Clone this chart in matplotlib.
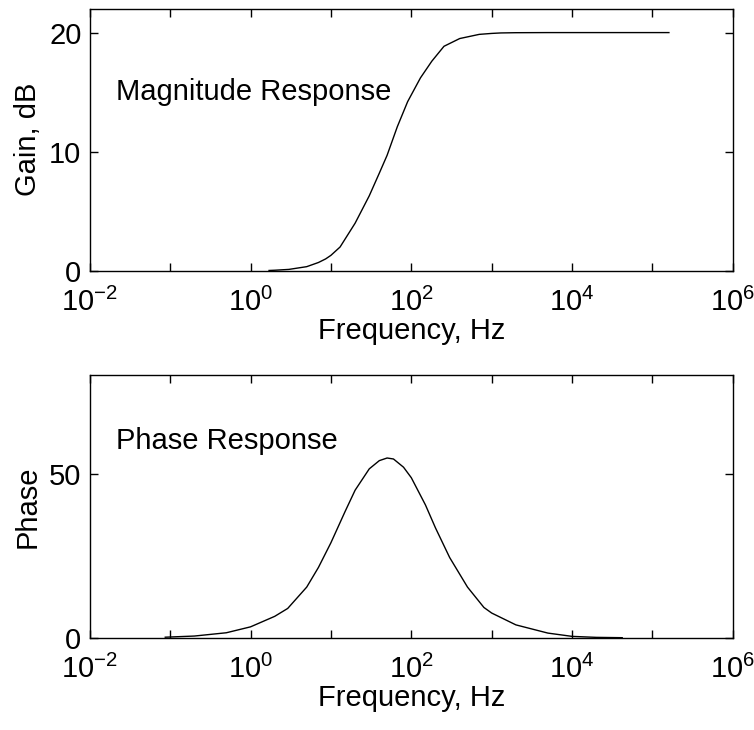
import numpy as np
import matplotlib
matplotlib.use("Agg")
import matplotlib.pyplot as plt
from matplotlib.ticker import NullFormatter

# magnitude response
mag_freq = [1.7, 2, 3, 5, 7, 8.6, 10, 13, 20, 30, 40, 50, 67, 90, 130, 180, 255, 400, 700, 1000, 1300, 2000, 5000, 1e4, 5e4, 1.6e5]
mag_gain = [0.03, 0.05, 0.12, 0.35, 0.7, 1.0, 1.3, 2.0, 4.0, 6.3, 8.2, 9.7, 12.1, 14.2, 16.2, 17.6, 18.85, 19.5, 19.85, 19.93, 19.97, 19.99, 20.0, 20.0, 20.0, 20.0]

# phase response
ph_freq = [0.087, 0.2, 0.5, 1, 2, 2.9, 5, 7, 10, 15, 20, 30, 40, 50, 60, 80, 100, 150, 200, 300, 500, 800, 1000, 2000, 5000, 1e4, 2e4, 4.2e4]
ph_deg = [0.25, 0.6, 1.6, 3.4, 6.6, 9.0, 15.5, 21.5, 29.0, 38.5, 45.0, 51.5, 54.0, 54.8, 54.5, 52.0, 48.8, 40.5, 33.5, 24.5, 15.5, 9.3, 7.6, 4.0, 1.5, 0.5, 0.2, 0.1]

# axis ticks
x_major = [1e-2, 1e0, 1e2, 1e4, 1e6]
x_labels = ['$10^{-2}$', '$10^{0}$', '$10^{2}$', '$10^{4}$', '$10^{6}$']
x_minor = [1e-1, 1e1, 1e3, 1e5]

FS = 21

plt.rcParams['font.family'] = ['Liberation Sans', 'DejaVu Sans']
plt.rcParams['mathtext.default'] = 'regular'

fig = plt.figure(figsize=(7.54, 7.30), dpi=100)
ax1 = fig.add_axes([0.119, 0.629, 0.853, 0.359])
ax2 = fig.add_axes([0.119, 0.126, 0.853, 0.360])


def style(ax):
    ax.set_xscale('log')
    ax.set_xticks(x_major)
    ax.set_xticklabels(x_labels)
    ax.set_xticks(x_minor, minor=True)
    ax.xaxis.set_minor_formatter(NullFormatter())
    ax.set_xlim(1e-2, 1e6)
    ax.tick_params(which='both', direction='in', top=True, right=True,
                   labelsize=FS, width=1, length=6)
    ax.tick_params(axis='x', pad=12)
    ax.tick_params(axis='y', pad=6)
    for s in ax.spines.values():
        s.set_linewidth(1)
    ax.set_xlabel('Frequency, Hz', fontsize=FS, labelpad=0)


ax1.plot(mag_freq, mag_gain, color='black', lw=1)
style(ax1)
ax1.set_ylim(0, 22)
ax1.set_yticks([0, 10, 20])
ax1.set_ylabel('Gain, dB', fontsize=FS, labelpad=5)
ax1.text(0.021, 15, 'Magnitude Response', fontsize=FS, va='center')

ax2.plot(ph_freq, ph_deg, color='black', lw=1)
style(ax2)
ax2.set_ylim(0, 80)
ax2.set_yticks([0, 50])
ax2.set_ylabel('Phase', fontsize=FS, labelpad=5)
ax2.text(0.021, 60, 'Phase Response', fontsize=FS, va='center')

fig.savefig('out.png', dpi=100)
